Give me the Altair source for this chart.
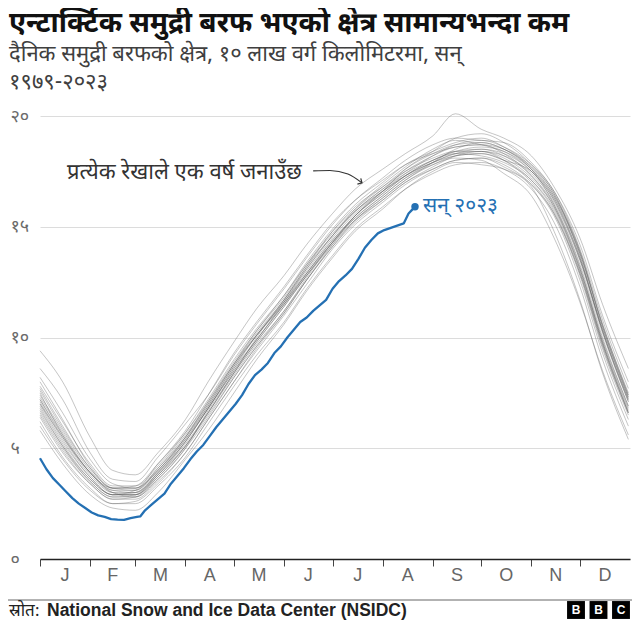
import altair as alt
import pandas as pd

# ---------------- data ----------------
SAMPLE_DAYS = [1, 15, 32, 46, 60, 74, 91, 105, 121, 135, 152, 166, 182,
               196, 213, 227, 244, 258, 274, 288, 305, 319, 335, 349, 365]

GREY_SERIES = [
    [9.4, 8.0, 5.5, 4.0, 3.8, 4.8, 6.3, 8.0, 9.8, 11.3, 12.8, 14.2, 15.6, 16.7, 17.6, 18.3, 19.1, 20.1, 19.4, 19.0, 18.2, 16.8, 14.5, 11.5, 8.6],
    [8.6, 7.2, 4.8, 3.6, 3.5, 4.6, 6.1, 7.4, 9.2, 10.6, 12.2, 13.6, 15.1, 16.2, 17.2, 18.0, 18.7, 19.0, 18.9, 18.8, 17.9, 16.6, 14.2, 11.0, 8.0],
    [7.8, 6.2, 4.3, 3.3, 3.3, 4.2, 5.7, 7.2, 9.0, 10.4, 11.9, 13.4, 14.9, 16.0, 17.0, 17.8, 18.4, 18.8, 19.0, 18.6, 17.7, 16.4, 13.9, 10.6, 7.5],
    [7.4, 5.8, 4.0, 3.1, 3.1, 4.1, 5.6, 7.0, 8.8, 10.3, 11.8, 13.3, 14.8, 15.8, 16.8, 17.6, 18.3, 18.7, 18.8, 18.5, 17.6, 16.3, 13.6, 10.3, 7.2],
    [7.2, 5.5, 3.8, 3.0, 3.0, 3.9, 5.3, 6.8, 8.5, 9.9, 11.5, 12.9, 14.4, 15.5, 16.5, 17.3, 18.0, 18.4, 18.5, 18.2, 17.3, 16.0, 13.3, 10.0, 6.9],
    [7.0, 5.3, 3.7, 2.9, 2.9, 3.8, 5.2, 6.6, 8.4, 9.8, 11.4, 12.8, 14.3, 15.4, 16.4, 17.2, 17.9, 18.3, 18.4, 18.1, 17.2, 15.9, 13.1, 9.8, 6.8],
    [6.8, 5.1, 3.5, 2.8, 2.8, 3.6, 5.0, 6.4, 8.2, 9.6, 11.2, 12.6, 14.1, 15.3, 16.3, 17.1, 17.8, 18.2, 18.3, 18.0, 17.1, 15.7, 12.9, 9.6, 6.6],
    [6.5, 4.9, 3.4, 2.7, 2.7, 3.5, 4.8, 6.3, 8.0, 9.4, 11.0, 12.4, 14.0, 15.1, 16.1, 16.9, 17.6, 18.0, 18.1, 17.8, 16.9, 15.5, 12.6, 9.3, 6.3],
    [6.2, 4.6, 3.2, 2.5, 2.5, 3.3, 4.6, 6.1, 7.8, 9.2, 10.7, 12.2, 13.7, 14.9, 15.9, 16.7, 17.4, 17.8, 17.9, 17.6, 16.7, 15.2, 12.3, 9.0, 6.0],
    [5.8, 4.3, 2.9, 2.3, 2.2, 3.0, 4.5, 5.8, 7.5, 9.0, 10.6, 12.1, 13.6, 14.8, 15.8, 16.7, 17.5, 17.9, 17.8, 17.6, 16.8, 14.8, 11.7, 8.4, 5.4],
    [7.6, 5.9, 4.1, 3.2, 3.2, 4.3, 5.8, 7.4, 9.3, 10.7, 12.3, 13.7, 15.2, 16.2, 17.1, 17.8, 18.3, 18.6, 18.7, 18.3, 17.3, 15.9, 13.1, 9.9, 6.9],
    [6.9, 5.2, 3.6, 2.9, 3.1, 4.0, 5.5, 7.1, 8.9, 10.3, 11.9, 13.3, 14.7, 15.7, 16.6, 17.3, 17.9, 18.2, 18.3, 18.0, 17.5, 16.3, 13.8, 10.6, 7.4],
    [7.3, 5.7, 3.9, 3.1, 3.0, 3.8, 5.1, 6.5, 8.2, 9.6, 11.1, 12.6, 14.2, 15.5, 16.6, 17.6, 18.4, 19.0, 19.2, 18.8, 17.8, 16.5, 13.9, 10.5, 7.3],
    [8.2, 6.6, 4.5, 3.4, 3.2, 4.0, 5.4, 6.8, 8.6, 9.9, 11.6, 13.1, 14.6, 15.8, 16.9, 17.7, 18.5, 18.9, 18.7, 18.4, 17.5, 16.2, 13.5, 10.2, 7.1],
    [7.0, 5.5, 3.9, 3.0, 2.8, 3.6, 5.0, 6.7, 8.4, 10.0, 11.7, 13.2, 14.8, 15.9, 16.8, 17.5, 18.1, 18.4, 18.4, 18.0, 17.0, 15.6, 12.8, 9.5, 6.5],
    [6.6, 5.0, 3.5, 2.8, 2.9, 3.9, 5.4, 6.9, 8.7, 10.1, 11.6, 12.9, 14.3, 15.3, 16.2, 17.0, 17.7, 18.2, 18.4, 18.2, 17.4, 16.1, 13.5, 10.4, 7.3],
    [7.5, 5.6, 3.9, 3.2, 3.3, 4.3, 5.7, 7.1, 8.8, 10.1, 11.5, 12.8, 14.2, 15.3, 16.3, 17.1, 17.9, 18.5, 18.8, 18.5, 17.6, 16.0, 13.2, 9.8, 6.7],
    [8.0, 6.3, 4.2, 3.2, 3.1, 4.0, 5.5, 7.0, 8.8, 10.2, 11.7, 13.1, 14.6, 15.7, 16.7, 17.4, 18.0, 18.3, 18.2, 17.9, 17.1, 15.8, 13.0, 9.7, 6.6],
    [6.4, 4.8, 3.4, 2.7, 2.8, 3.7, 5.1, 6.6, 8.3, 9.7, 11.2, 12.7, 14.3, 15.5, 16.6, 17.4, 18.2, 18.7, 18.9, 18.6, 17.8, 16.6, 14.0, 10.8, 7.7],
    [7.1, 5.4, 3.7, 2.9, 2.9, 3.8, 5.3, 6.8, 8.5, 9.9, 11.5, 12.9, 14.4, 15.4, 16.4, 17.2, 17.8, 18.1, 18.0, 17.4, 16.4, 14.5, 11.6, 8.5, 5.6],
    [6.7, 5.1, 3.6, 2.9, 3.0, 3.9, 5.3, 6.8, 8.6, 10.1, 11.7, 13.2, 14.6, 15.7, 16.7, 17.5, 18.2, 18.6, 18.7, 18.5, 17.7, 16.5, 13.7, 10.3, 7.1],
    [7.7, 6.0, 4.1, 3.2, 3.2, 4.1, 5.5, 6.9, 8.7, 10.1, 11.6, 13.0, 14.5, 15.6, 16.6, 17.3, 17.9, 18.3, 18.5, 18.3, 17.5, 16.2, 13.6, 10.3, 7.2],
    [6.0, 4.5, 3.1, 2.5, 2.6, 3.4, 4.8, 6.3, 8.0, 9.5, 11.1, 12.6, 14.1, 15.2, 16.2, 17.0, 17.6, 18.0, 18.1, 17.7, 16.9, 15.6, 12.9, 9.7, 6.6],
    [7.2, 5.6, 3.9, 3.0, 2.9, 3.7, 5.1, 6.6, 8.4, 9.8, 11.4, 12.8, 14.3, 15.5, 16.5, 17.3, 18.0, 18.4, 18.6, 18.4, 17.6, 16.4, 13.8, 10.5, 7.4],
]

BLUE_DAYS = [1, 5, 9, 13, 17, 21, 25, 29, 33, 37, 41, 45, 49, 53, 57, 61, 63, 66,
             70, 74, 78, 82, 86, 90, 94, 98, 102, 106, 110, 114, 118, 122, 126,
             130, 134, 138, 142, 146, 150, 154, 158, 162, 166, 170, 174, 178,
             182, 186, 190, 194, 198, 202, 206, 210, 214, 218, 222, 226, 229,
             231, 233]
BLUE_VALUES = [4.55, 4.05, 3.65, 3.35, 3.05, 2.75, 2.5, 2.3, 2.1, 1.97, 1.9,
               1.8, 1.78, 1.77, 1.85, 1.9, 1.92, 2.2, 2.45, 2.7, 2.95, 3.4,
               3.75, 4.1, 4.5, 4.85, 5.15, 5.55, 5.95, 6.3, 6.65, 7.0, 7.4,
               7.9, 8.3, 8.55, 8.85, 9.3, 9.6, 10.0, 10.35, 10.7, 10.9, 11.2,
               11.45, 11.7, 12.2, 12.55, 12.8, 13.1, 13.55, 14.05, 14.4, 14.7,
               14.85, 14.95, 15.05, 15.15, 15.6, 15.75, 15.9]

MONTH_LABELS = ["J", "F", "M", "A", "M", "J", "J", "A", "S", "O", "N", "D"]
MONTH_STARTS = [1, 32, 60, 91, 121, 152, 182, 213, 244, 274, 305, 335, 366]
Y_TICKS = [0, 5, 10, 15, 20]
Y_TICK_LABELS = ["०", "५", "१०", "१५", "२०"]

TITLE = "एन्टार्क्टिक समुद्री बरफ भएको क्षेत्र सामान्यभन्दा कम"
SUBTITLE = ["दैनिक समुद्री बरफको क्षेत्र, १० लाख वर्ग किलोमिटरमा, सन्", "१९७९-२०२३"]
NOTE = "प्रत्येक रेखाले एक वर्ष जनाउँछ"
NOTE_DAY, NOTE_VALUE = 17.7, 17.47
ARROW_DAYS = [170, 180.4, 191.5, 200.2]
ARROW_VALUES = [17.52, 17.54, 17.38, 16.98]
LABEL_2023 = "सन् २०२३"
SOURCE_PREFIX = "स्रोत:"
SOURCE = "National Snow and Ice Data Center (NSIDC)"
LOGO_LETTERS = ["B", "B", "C"]

# ---------------- styling ----------------
W, H = 590, 443
DEV = "Noto Sans Devanagari, Noto Sans, sans-serif"
LAT = "Liberation Sans, Arial, sans-serif"
BLUE = "#2470b3"
LEFT = -31  # left edge of the svg (plot x) plus 1px

grey_rows = []
for i, vals in enumerate(GREY_SERIES):
    for d, v in zip(SAMPLE_DAYS, vals):
        grey_rows.append({"series": f"s{i}", "day": d, "extent": v})
grey_df = pd.DataFrame(grey_rows)
blue_df = pd.DataFrame({"day": BLUE_DAYS, "extent": BLUE_VALUES})
end_df = blue_df.tail(1).assign(label=LABEL_2023)
month_df = pd.DataFrame({
    "day": [(MONTH_STARTS[i] + MONTH_STARTS[i + 1]) / 2 for i in range(12)],
    "label": MONTH_LABELS,
})

label_expr = " : ".join(
    f"datum.value == {v} ? '{t}'" for v, t in zip(Y_TICKS, Y_TICK_LABELS)
) + " : ''"

x_scale = alt.Scale(domain=[1, 366], nice=False, zero=False)
y_scale = alt.Scale(domain=[0, 20], nice=False)
x_axis = alt.Axis(values=MONTH_STARTS[:-1], labels=False, grid=False,
                  tickSize=7, tickColor="#444", tickWidth=1,
                  domainColor="#222", domainWidth=1.4, title=None)
y_axis = alt.Axis(values=Y_TICKS, labelExpr=label_expr, grid=True,
                  gridColor="#dcdcdc", gridWidth=1, domain=False, ticks=False,
                  tickSize=0, labelPadding=30, labelAlign="left",
                  labelBaseline="middle", labelColor="#6a6a6a",
                  labelFontSize=18, labelFont=DEV, title=None)

X = alt.X("day:Q", scale=x_scale, axis=x_axis)
Y = alt.Y("extent:Q", scale=y_scale, axis=y_axis)

grey = alt.Chart(grey_df).mark_line(
    color="#555555", strokeWidth=0.9, opacity=0.38, interpolate="monotone"
).encode(x=X, y=Y, detail="series:N")

blue = alt.Chart(blue_df).mark_line(
    color=BLUE, strokeWidth=2.3, strokeJoin="round"
).encode(x=X, y=Y)

dot = alt.Chart(end_df).mark_circle(color=BLUE, size=55, opacity=1).encode(x=X, y=Y)

lab = alt.Chart(end_df).mark_text(
    color=BLUE, fontSize=21, font=DEV, align="left", baseline="middle", dx=8, dy=-1
).encode(x=X, y=Y, text="label:N")

note = alt.Chart(pd.DataFrame({"day": [NOTE_DAY], "extent": [NOTE_VALUE], "t": [NOTE]})).mark_text(
    color="#333", fontSize=22, font=DEV, align="left", baseline="middle"
).encode(x=X, y=Y, text="t:N")

arrow_df = pd.DataFrame({"day": ARROW_DAYS, "extent": ARROW_VALUES})
arrow = alt.Chart(arrow_df).mark_line(
    color="#333", strokeWidth=1.2, interpolate="monotone"
).encode(x=X, y=Y)
head = alt.Chart(arrow_df.tail(1)).mark_point(
    shape="M-1,-1L0,0L-1,1", filled=False, color="#333", strokeWidth=1.2,
    size=45, angle=30, opacity=1
).encode(x=X, y=Y)

months = alt.Chart(month_df).mark_text(
    color="#666", fontSize=18, font=LAT, baseline="middle"
).encode(x=X, y=alt.value(H + 17), text="label:N")


def text_at(t, x, y, **kw):
    return alt.Chart(pd.DataFrame({"t": [t]})).mark_text(**kw).encode(
        x=alt.value(x), y=alt.value(y), text="t:N")


title = text_at(TITLE, LEFT, -84, font=DEV, fontSize=28, fontWeight="bold",
                color="#111", align="left", baseline="alphabetic")
sub1 = text_at(SUBTITLE[0], LEFT, -55, font=DEV, fontSize=22, color="#404040",
               align="left", baseline="alphabetic")
sub2 = text_at(SUBTITLE[1], LEFT, -27, font=DEV, fontSize=22, color="#404040",
               align="left", baseline="alphabetic")

rule = alt.Chart(pd.DataFrame({"a": [0]})).mark_rule(color="#666", strokeWidth=1).encode(
    x=alt.value(-32), x2=alt.value(W + 2), y=alt.value(H + 41))
src1 = text_at(SOURCE_PREFIX, LEFT, H + 57, font=DEV, fontSize=17, color="#222",
               align="left", baseline="alphabetic")
src2 = text_at(SOURCE, 7, H + 57, font=LAT, fontSize=17.5, fontWeight="bold",
               color="#222", align="left", baseline="alphabetic")

logo_layers = []
for i, letter in enumerate(LOGO_LETTERS):
    cx = 536 + i * 22.5
    logo_layers.append(alt.Chart(pd.DataFrame({"a": [0]})).mark_square(
        color="#000", size=320, opacity=1).encode(x=alt.value(cx), y=alt.value(H + 51)))
    logo_layers.append(text_at(letter, cx, H + 51, font=LAT, fontSize=12,
                               fontWeight="bold", color="#fff", align="center",
                               baseline="middle"))

chart = alt.layer(
    grey, blue, dot, lab, note, arrow, head, months,
    title, sub1, sub2, rule, src1, src2, *logo_layers
).properties(
    width=W, height=H,
    autosize=alt.AutoSizeParams(type="none"),
    padding={"left": 32, "top": 108, "right": 2, "bottom": 63},
    background="white",
).configure_view(stroke=None)

chart.save("out.html", embed_options={"renderer": "svg", "actions": False})
